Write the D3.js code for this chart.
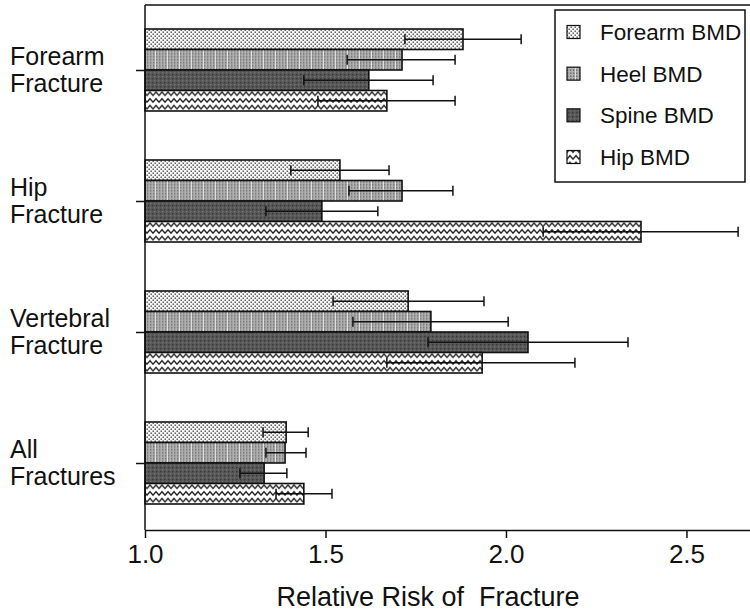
<!DOCTYPE html>
<html><head><meta charset="utf-8">
<script src="https://cdn.jsdelivr.net/npm/d3@7"></script>
<style>
html,body{margin:0;padding:0;background:#fff;}
svg{display:block;font-family:"Liberation Sans",Arial,Helvetica,sans-serif;}
</style></head>
<body>
<svg id="chart" width="750" height="613"></svg>
<script>
// ---- data ----
const categories = ["Forearm Fracture", "Hip Fracture", "Vertebral Fracture", "All Fractures"];
const series = ["Forearm BMD", "Heel BMD", "Spine BMD", "Hip BMD"];
const forearmRR = [1.881, 1.540, 1.729, 1.391];
const forearmLo = [1.720, 1.404, 1.521, 1.327];
const forearmHi = [2.042, 1.676, 1.939, 1.452];
const heelRR    = [1.712, 1.712, 1.792, 1.388];
const heelLo    = [1.560, 1.565, 1.576, 1.335];
const heelHi    = [1.859, 1.853, 2.006, 1.446];
const spineRR   = [1.620, 1.490, 2.061, 1.330];
const spineLo   = [1.440, 1.335, 1.784, 1.263];
const spineHi   = [1.798, 1.645, 2.338, 1.393];
const hipRR     = [1.670, 2.374, 1.934, 1.440];
const hipLo     = [1.479, 2.103, 1.670, 1.363];
const hipHi     = [1.859, 2.643, 2.191, 1.518];
const xTicks = [1.0, 1.5, 2.0, 2.5];
const xTitle = "Relative Risk of  Fracture";

const seriesData = [
  {rr: forearmRR, lo: forearmLo, hi: forearmHi},
  {rr: heelRR, lo: heelLo, hi: heelHi},
  {rr: spineRR, lo: spineLo, hi: spineHi},
  {rr: hipRR, lo: hipLo, hi: hipHi}
];
const patternIds = ["pForearm", "pHeel", "pSpine", "pHip"];

const svg = d3.select("#chart");
const defs = svg.append("defs");

// forearm: light dotted
let p = defs.append("pattern").attr("id","pForearm").attr("width",4).attr("height",4).attr("patternUnits","userSpaceOnUse");
p.append("rect").attr("width",4).attr("height",4).attr("fill","#f6f6f6");
p.append("rect").attr("x",0.5).attr("y",0.5).attr("width",1.4).attr("height",1.4).attr("fill","#4a4a4a");
p.append("rect").attr("x",2.5).attr("y",2.5).attr("width",1.4).attr("height",1.4).attr("fill","#4a4a4a");

// heel: medium gray dotted with light vertical streaks
p = defs.append("pattern").attr("id","pHeel").attr("width",12).attr("height",3).attr("patternUnits","userSpaceOnUse");
p.append("rect").attr("width",12).attr("height",3).attr("fill","#b0b0b0");
[0,3,6,9].forEach(xx => p.append("rect").attr("x",xx).attr("y",0.5).attr("width",1.4).attr("height",1.4).attr("fill","#666"));
p.append("rect").attr("x",11).attr("y",0).attr("width",0.9).attr("height",3).attr("fill","#e6e6e6");

// spine: dark gray speckled
p = defs.append("pattern").attr("id","pSpine").attr("width",4).attr("height",4).attr("patternUnits","userSpaceOnUse");
p.append("rect").attr("width",4).attr("height",4).attr("fill","#575757");
p.append("rect").attr("x",0).attr("y",0).attr("width",1.3).attr("height",1.3).attr("fill","#363636");
p.append("rect").attr("x",2).attr("y",2).attr("width",1.3).attr("height",1.3).attr("fill","#737373");

// hip: zigzag lines
p = defs.append("pattern").attr("id","pHip").attr("width",6).attr("height",6.7).attr("patternUnits","userSpaceOnUse");
p.append("rect").attr("width",6).attr("height",6.7).attr("fill","#fff");
p.append("path").attr("d","M-1.5,3.2 L0,1.6 L3,5 L6,1.6 L7.5,3.2").attr("fill","none").attr("stroke","#222").attr("stroke-width",1.4);

// ---- scales ----
const x = d3.scaleLinear().domain([1.0, 2.676]).range([145, 750]);
const y = d3.scalePoint().domain(categories).range([70, 463]);
const sub = d3.scaleBand().domain(series).range([-41, 41]).padding(0);
const plotTop = 5, plotBottom = 530;

// ---- bars ----
const catG = svg.selectAll("g.cat").data(categories).join("g")
  .attr("class","cat")
  .attr("transform", c => `translate(0,${y(c)})`);

catG.each(function(c, ci) {
  const g = d3.select(this);
  series.forEach((s, si) => {
    const d = seriesData[si];
    const bg = g.append("g").attr("transform", `translate(0,${sub(s)})`);
    const h = sub.bandwidth();
    bg.append("rect")
      .attr("x", x(1.0)).attr("y", 0)
      .attr("width", x(d.rr[ci]) - x(1.0)).attr("height", h)
      .attr("fill", `url(#${patternIds[si]})`)
      .attr("stroke", "#111").attr("stroke-width", 1.6);
    const cy = h / 2;
    bg.append("line").attr("x1", x(d.lo[ci])).attr("x2", x(d.hi[ci]))
      .attr("y1", cy).attr("y2", cy).attr("stroke","#111").attr("stroke-width",1.5);
    [d.lo[ci], d.hi[ci]].forEach(v => {
      bg.append("line").attr("x1", x(v)).attr("x2", x(v))
        .attr("y1", cy - 5).attr("y2", cy + 5).attr("stroke","#111").attr("stroke-width",1.5);
    });
  });
});

// ---- axes ----
const xAxis = d3.axisBottom(x).tickValues(xTicks).tickFormat(d3.format(".1f"))
  .tickSize(8).tickSizeOuter(0).tickPadding(7);
const xg = svg.append("g").attr("transform", `translate(0,${plotBottom})`).call(xAxis);
xg.select(".domain").attr("stroke","#111").attr("stroke-width",1.5);
xg.selectAll(".tick line").attr("stroke","#111").attr("stroke-width",1.5);
xg.selectAll(".tick text").attr("font-size",26).attr("fill","#111")
  .attr("font-family",'"Liberation Sans",Arial,sans-serif');

const yAxis = d3.axisLeft(y).tickSize(9).tickSizeOuter(0).tickFormat(() => "");
const yg = svg.append("g").attr("transform", `translate(${x(1.0)},0)`).call(yAxis);
yg.select(".domain").remove();
yg.selectAll(".tick line").attr("stroke","#111").attr("stroke-width",1.5);

// y axis line and top frame line
svg.append("line").attr("x1", x(1.0)).attr("x2", x(1.0)).attr("y1", plotTop).attr("y2", plotBottom)
  .attr("stroke","#111").attr("stroke-width",1.5);
svg.append("line").attr("x1", x(1.0)).attr("x2", x.range()[1]).attr("y1", plotTop).attr("y2", plotTop)
  .attr("stroke","#111").attr("stroke-width",1.5);

// category labels
svg.selectAll("text.cat").data(categories).join("text")
  .attr("class","cat")
  .attr("x", 10).attr("y", c => y(c) - 5)
  .attr("font-size", 25).attr("fill","#111")
  .each(function(c) {
    const parts = c.split(" ");
    const t = d3.select(this);
    t.append("tspan").attr("x",10).attr("dy",0).text(parts[0]);
    t.append("tspan").attr("x",10).attr("dy",27).text(parts.slice(1).join(" "));
  });

// x title
svg.append("text").attr("x", 428).attr("y", 606).attr("text-anchor","middle")
  .attr("font-size", 27).attr("fill","#111").attr("xml:space","preserve")
  .style("white-space","pre")
  .text(xTitle);

// ---- legend ----
const leg = svg.append("g");
leg.append("rect").attr("x",555).attr("y",10).attr("width",190).attr("height",172)
  .attr("fill","#fff").attr("stroke","#111").attr("stroke-width",1.5);
const legY = d3.scalePoint().domain(series).range([32, 157]);
series.forEach((s, si) => {
  leg.append("rect").attr("x",567).attr("y",legY(s) - 6.5).attr("width",13).attr("height",13)
    .attr("fill",`url(#${patternIds[si]})`).attr("stroke","#111").attr("stroke-width",1.2);
  leg.append("text").attr("x",600).attr("y",legY(s) + 8).attr("font-size",22.5).attr("fill","#111").text(s);
});
</script>
</body></html>
